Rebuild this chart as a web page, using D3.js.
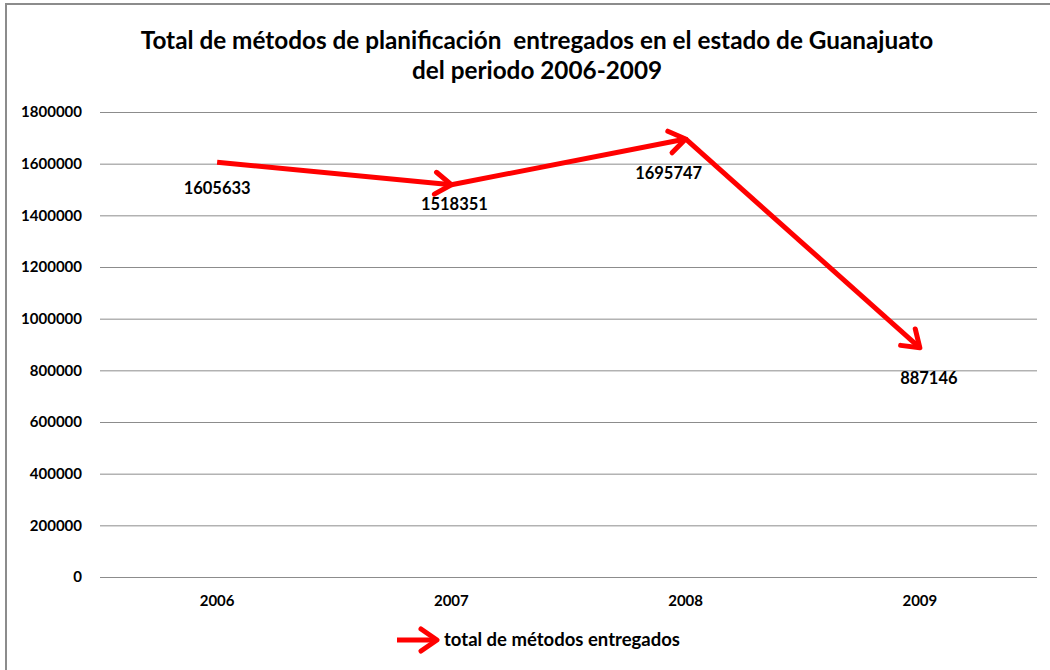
<!DOCTYPE html>
<html>
<head>
<meta charset="utf-8">
<script src="https://cdn.jsdelivr.net/npm/d3@7"></script>
<style>
  body { margin: 0; background: #fff; }
  text { font-family: Lato, "Open Sans", sans-serif; font-weight: bold; fill: #000; }
</style>
</head>
<body>
<div id="chart"></div>
<script>
// data
const years = ['2006', '2007', '2008', '2009'];
const totals = [1605633, 1518351, 1695747, 887146];
const yTicks = [0, 200000, 400000, 600000, 800000, 1000000, 1200000, 1400000, 1600000, 1800000];
const seriesName = 'total de métodos entregados';

const width = 1050, height = 670;
const margin = { top: 112, right: 13, bottom: 93, left: 100 };
const plotW = width - margin.left - margin.right;
const plotH = height - margin.top - margin.bottom;

const svg = d3.select('#chart').append('svg')
    .attr('width', width).attr('height', height);

// chart border
svg.append('rect')
    .attr('x', 6).attr('y', 4)
    .attr('width', width + 10).attr('height', height + 10)
    .attr('fill', 'none').attr('stroke', '#8c8c8c').attr('stroke-width', 2);

// arrow head marker (open chevron)
svg.append('defs').append('marker')
    .attr('id', 'arrow')
    .attr('markerUnits', 'userSpaceOnUse')
    .attr('viewBox', '-24 -14 28 28')
    .attr('markerWidth', 28).attr('markerHeight', 28)
    .attr('refX', 0).attr('refY', 0)
    .attr('orient', 'auto')
    .append('path')
    .attr('d', 'M-16,-11 L0,0 L-16,11')
    .attr('fill', 'none').attr('stroke', '#ff0000')
    .attr('stroke-width', 5).attr('stroke-linecap', 'round').attr('stroke-linejoin', 'round');

// title
const title = svg.append('text')
    .attr('text-anchor', 'middle')
    .style('font-size', '24.3px')
    .style('white-space', 'pre');
title.append('tspan').attr('x', 537).attr('y', 49)
    .text('Total de métodos de planificación  entregados en el estado de Guanajuato');
title.append('tspan').attr('x', 537).attr('y', 79)
    .text('del periodo 2006-2009');

const g = svg.append('g').attr('transform', `translate(${margin.left},${margin.top})`);

const x = d3.scaleBand().domain(years).range([0, plotW]);
const y = d3.scaleLinear().domain([0, 1800000]).range([plotH, 0]);

// grid + y axis
const yAxis = d3.axisLeft(y).tickValues(yTicks).tickSize(-plotW).tickPadding(18).tickFormat(d3.format('d'));
g.append('g').call(yAxis)
    .call(s => s.select('.domain').remove())
    .call(s => s.selectAll('.tick line').attr('stroke', '#8c8c8c').attr('stroke-width', 1))
    .call(s => s.selectAll('.tick text').style('font-size', '15px').style('font-family', 'Lato, sans-serif'));

// x axis labels
const xAxis = d3.axisBottom(x).tickSize(0).tickPadding(18);
g.append('g').attr('transform', `translate(0,${plotH})`).call(xAxis)
    .call(s => s.select('.domain').remove())
    .call(s => s.selectAll('.tick text').style('font-size', '15px').style('font-family', 'Lato, sans-serif'));

// line segments with arrow heads at each point
const pts = years.map((yr, i) => [x(yr) + x.bandwidth() / 2, y(totals[i])]);
for (let i = 1; i < pts.length; i++) {
    g.append('line')
        .attr('x1', pts[i - 1][0]).attr('y1', pts[i - 1][1])
        .attr('x2', pts[i][0]).attr('y2', pts[i][1])
        .attr('stroke', '#ff0000').attr('stroke-width', 5)
        .attr('marker-end', 'url(#arrow)');
}

// data labels
const labelOffset = [[0, 32], [3, 25], [-17, 40], [9, 36]];
g.selectAll('.lbl').data(totals).join('text')
    .attr('class', 'lbl')
    .attr('x', (d, i) => pts[i][0] + labelOffset[i][0])
    .attr('y', (d, i) => pts[i][1] + labelOffset[i][1])
    .attr('text-anchor', 'middle')
    .style('font-size', '16.5px')
    .text(d => d);

// legend
const leg = svg.append('g').attr('transform', 'translate(397,640)');
leg.append('line').attr('x1', 0).attr('y1', 0).attr('x2', 40).attr('y2', 0)
    .attr('stroke', '#ff0000').attr('stroke-width', 5)
    .attr('marker-end', 'url(#arrow)');
leg.append('text').attr('x', 47).attr('y', 6).style('font-size', '18.5px').text(seriesName);
</script>
</body>
</html>
